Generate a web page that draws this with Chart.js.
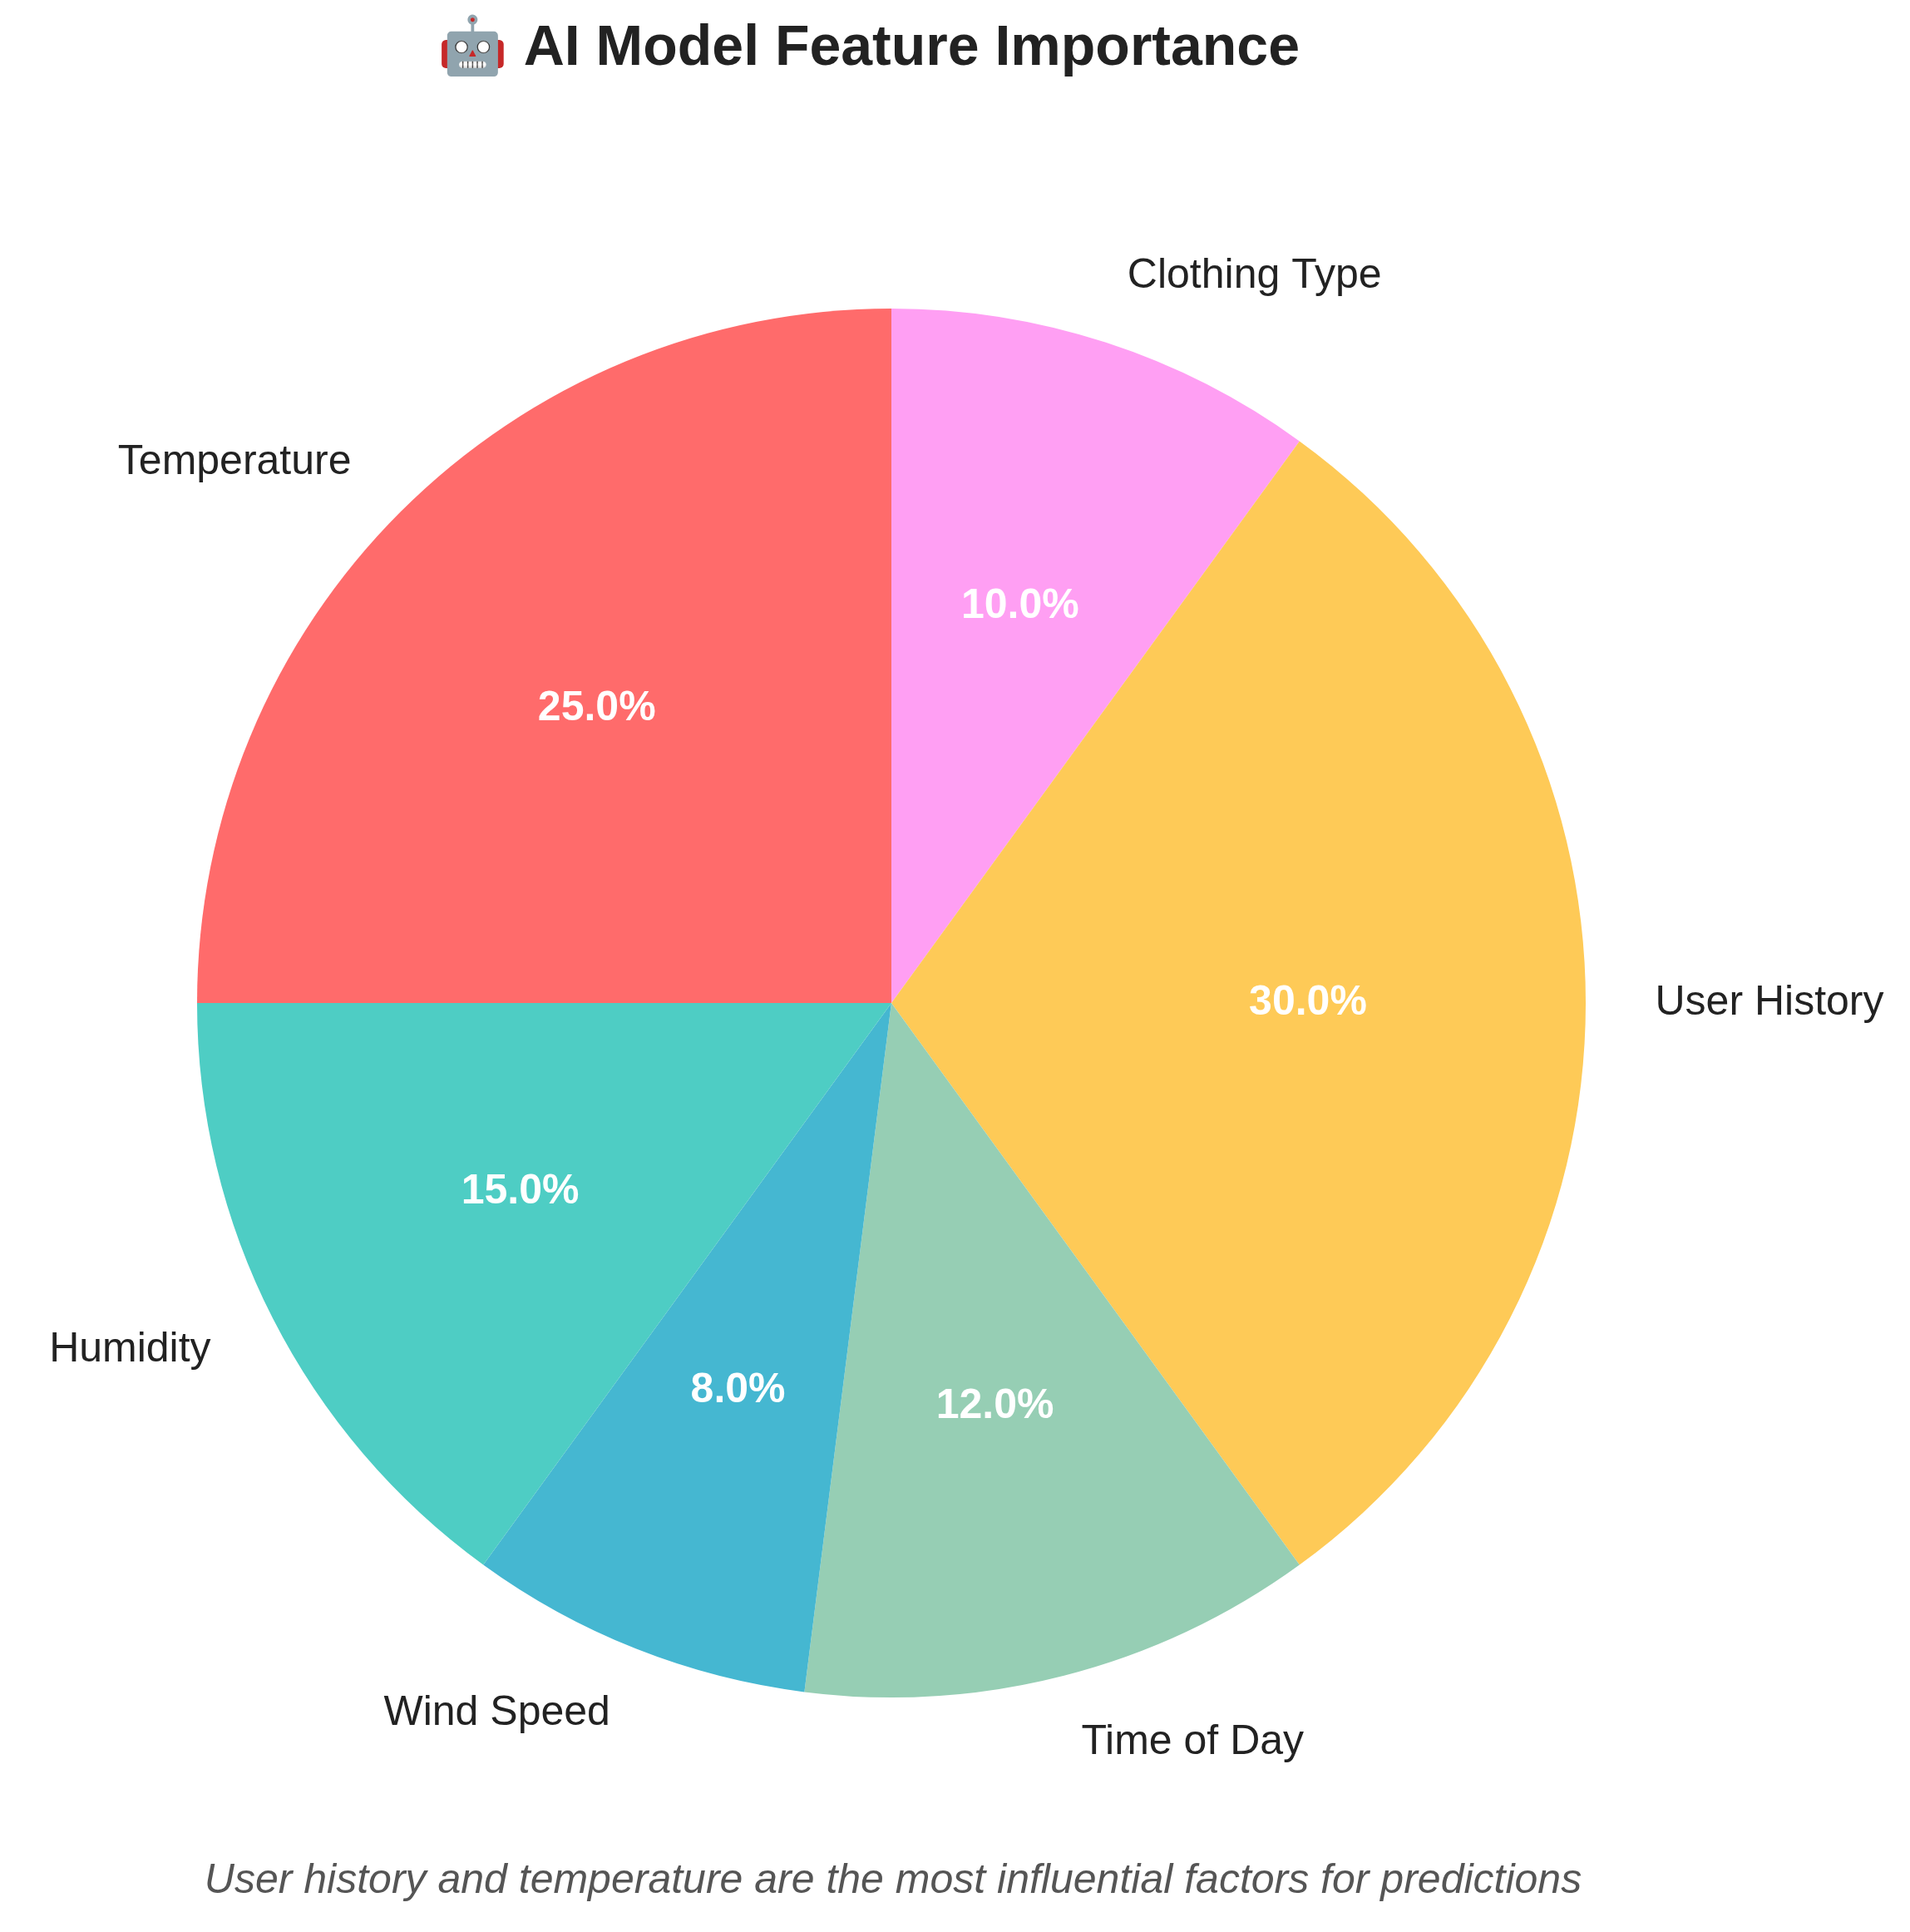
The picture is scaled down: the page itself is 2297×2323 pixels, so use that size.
<!DOCTYPE html>
<html>
<head>
<meta charset="utf-8">
<script src="https://cdn.jsdelivr.net/npm/chart.js@4/dist/chart.umd.min.js"></script>
<style>
  html, body { margin: 0; padding: 0; background: #ffffff; }
  #wrap { width: 2297px; height: 2323px; position: relative; }
</style>
</head>
<body>
<div id="wrap"><canvas id="c" width="2297" height="2323"></canvas></div>
<script>
// Data in matplotlib order (counter-clockwise from the top)
const categories = ['Temperature', 'Humidity', 'Wind Speed', 'Time of Day', 'User History', 'Clothing Type'];
const importance = [25, 15, 8, 12, 30, 10];
const sliceColors = ['#FF6B6B', '#4ECDC4', '#45B7D1', '#96CEB4', '#FECA57', '#FF9FF3'];
const titleText = '\u{1F916} AI Model Feature Importance';
const footnoteText = 'User history and temperature are the most influential factors for predictions';

// Chart.js draws clockwise, so reverse to get the same visual order
const labelsCW = categories.slice().reverse();
const valuesCW = importance.slice().reverse();
const colorsCW = sliceColors.slice().reverse();

const FONT = '"Liberation Sans", Arial, Helvetica, sans-serif';

const labelPlugin = {
  id: 'pieLabels',
  afterDatasetsDraw(chart) {
    const ctx = chart.ctx;
    const meta = chart.getDatasetMeta(0);
    const total = valuesCW.reduce((a, b) => a + b, 0);
    ctx.save();
    meta.data.forEach((arc, i) => {
      const p = arc.getProps(['x', 'y', 'startAngle', 'endAngle', 'outerRadius'], true);
      const mid = (p.startAngle + p.endAngle) / 2;
      const c = Math.cos(mid), s = Math.sin(mid);
      // percentage
      ctx.font = 'bold 50px ' + FONT;
      ctx.fillStyle = '#ffffff';
      ctx.textAlign = 'center';
      ctx.textBaseline = 'middle';
      const pct = (valuesCW[i] / total * 100).toFixed(1) + '%';
      ctx.fillText(pct, p.x + 0.6 * p.outerRadius * c, p.y + 0.6 * p.outerRadius * s);
      // outer label
      ctx.font = '50px ' + FONT;
      ctx.fillStyle = '#222222';
      ctx.textAlign = c > 0 ? 'left' : 'right';
      ctx.fillText(labelsCW[i], p.x + 1.1 * p.outerRadius * c, p.y + 1.1 * p.outerRadius * s);
    });
    // title (right edge aligned with the reference's text end)
    ctx.textAlign = 'right';
    ctx.textBaseline = 'middle';
    ctx.fillStyle = '#222222';
    ctx.font = 'bold 68px ' + FONT;
    ctx.fillText(titleText, 1563, 59);
    // footnote
    ctx.textAlign = 'center';
    ctx.font = 'italic 50px ' + FONT;
    ctx.fillStyle = '#555555';
    ctx.fillText(footnoteText, 1074, 2262);
    ctx.restore();
  }
};

new Chart(document.getElementById('c'), {
  type: 'pie',
  data: {
    labels: labelsCW,
    datasets: [{
      data: valuesCW,
      backgroundColor: colorsCW,
      borderWidth: 0,
      hoverOffset: 0
    }]
  },
  options: {
    responsive: false,
    animation: false,
    events: [],
    layout: { padding: { left: 237, right: 390, top: 371, bottom: 282 } },
    plugins: {
      legend: { display: false },
      tooltip: { enabled: false },
      title: { display: false }
    }
  },
  plugins: [labelPlugin]
});
</script>
</body>
</html>
